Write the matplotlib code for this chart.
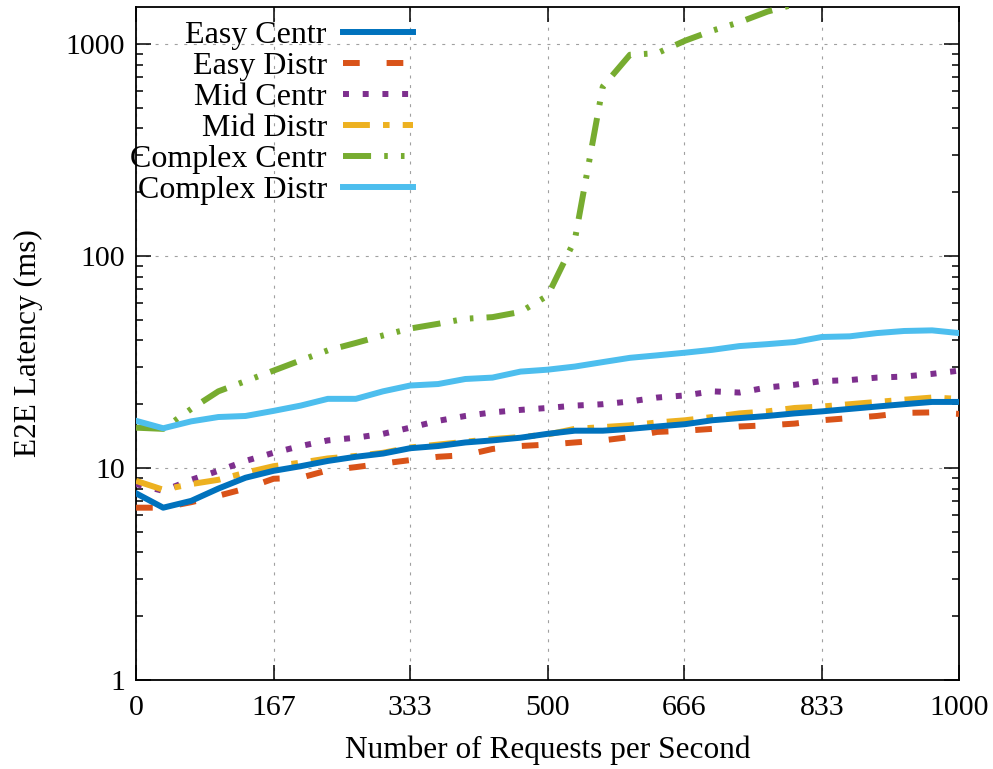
import matplotlib
matplotlib.use("Agg")
import matplotlib.pyplot as plt
from matplotlib.ticker import LogLocator, NullFormatter, FixedLocator

# Requests per second (x) and measured end-to-end latency in ms
requests = [0, 33, 67, 100, 133, 167, 200, 233, 267, 300, 333, 367, 400, 433, 467,
            500, 533, 567, 600, 633, 667, 700, 733, 767, 800, 833, 867, 900, 933, 967, 1000]

easy_centr = [7.6, 6.5, 7.0, 8.0, 9.0, 9.7, 10.2, 10.8, 11.3, 11.7, 12.4, 12.7, 13.2, 13.5, 13.9,
              14.5, 15.0, 15.0, 15.3, 15.7, 16.1, 16.8, 17.2, 17.6, 18.1, 18.5, 19.0, 19.5, 20.0, 20.5, 20.5]
easy_distr = [6.5, 6.5, 6.9, 7.4, 8.0, 8.9, 9.0, 9.75, 10.1, 10.5, 10.9, 11.3, 11.5, 12.3, 12.7,
              12.9, 13.2, 13.5, 14.0, 14.8, 15.0, 15.3, 15.7, 15.9, 16.2, 16.8, 17.2, 17.6, 18.2, 18.3, 18.0]
mid_centr = [8.4, 7.8, 8.8, 9.7, 10.8, 11.8, 12.7, 13.5, 13.9, 14.5, 15.5, 16.7, 17.6, 18.3, 18.8,
             19.2, 19.7, 20.0, 20.6, 21.5, 22.0, 23.0, 22.7, 24.0, 24.7, 25.7, 26.0, 26.7, 27.0, 27.8, 28.8]
mid_distr = [8.7, 7.9, 8.4, 8.8, 9.5, 10.2, 10.6, 11.1, 11.4, 11.8, 12.5, 12.9, 13.3, 13.7, 14.0,
             14.4, 15.3, 15.6, 15.9, 16.4, 16.8, 17.4, 18.1, 18.5, 19.2, 19.5, 20.0, 20.5, 21.0, 21.5, 21.2]
complex_centr = [15.5, 15.3, 19.0, 23.0, 25.7, 28.8, 32.2, 35.9, 38.9, 42.2, 45.5, 47.9, 50.6, 51.5, 54.5,
                 65, 119, 630, 890, 905, 1037, 1156, 1267, 1422, 1540]
complex_distr = [16.7, 15.4, 16.6, 17.4, 17.6, 18.6, 19.7, 21.2, 21.2, 23.0, 24.5, 24.9, 26.3, 26.7, 28.5,
                 29.1, 30.1, 31.6, 33.1, 34.0, 35.0, 36.1, 37.6, 38.4, 39.3, 41.5, 41.8, 43.3, 44.3, 44.6, 43.3]

xticks = [0, 167, 333, 500, 666, 833, 1000]
yticks = [1, 10, 100, 1000]

plt.rcParams['font.family'] = ['Liberation Serif', 'DejaVu Serif']
plt.rcParams['font.size'] = 21.5

fig = plt.figure(figsize=(9.93, 7.69), dpi=100)
ax = fig.add_axes([0.137, 0.1157, 0.829, 0.8756])

lw = 4.3
ax.plot(requests, easy_centr, color='#0072BD', lw=lw, label='Easy Centr', zorder=5)
ax.plot(requests, easy_distr, color='#D95319', lw=lw, label='Easy Distr',
        dashes=(2.8, 4.5), dash_capstyle='butt', zorder=4)
ax.plot(requests, mid_centr, color='#7E2F8E', lw=lw, label='Mid Centr',
        dashes=(1.0, 2.3), dash_capstyle='butt', zorder=4)
ax.plot(requests, mid_distr, color='#EDB120', lw=lw, label='Mid Distr',
        dashes=(4.5, 2.2, 1.1, 2.2), dash_capstyle='butt', zorder=4)
ax.plot(requests[:len(complex_centr)], complex_centr, color='#77AC30', lw=lw, label='Complex Centr',
        dashes=(4.7, 2.2, 0.6, 2.2, 0.6, 2.2), dash_capstyle='butt', zorder=4)
ax.plot(requests, complex_distr, color='#4DBEEE', lw=lw, label='Complex Distr', zorder=4)

ax.set_yscale('log')
ax.set_xlim(0, 1000)
ax.set_ylim(1, 1500)

ax.xaxis.set_major_locator(FixedLocator(xticks))
ax.set_xticklabels([str(t) for t in xticks])
ax.yaxis.set_major_locator(FixedLocator(yticks))
ax.set_yticklabels([str(t) for t in yticks])
ax.yaxis.set_minor_locator(LogLocator(base=10, subs=range(2, 10)))
ax.yaxis.set_minor_formatter(NullFormatter())

ax.tick_params(which='both', direction='in', top=True, right=True, width=1.1, color='black')
ax.tick_params(which='major', length=10.5, pad=8)
ax.tick_params(axis='x', which='major', pad=11)
ax.tick_params(which='minor', length=5)
for s in ax.spines.values():
    s.set_linewidth(1.3)

ax.grid(True, which='major', color='#a0a0a0', lw=0.8, linestyle=(0, (2.7, 5.9)))
ax.set_axisbelow(True)

ax.set_xlabel('Number of Requests per Second', fontsize=22.5, labelpad=10)
ax.set_ylabel('E2E Latency (ms)', fontsize=22.5, labelpad=16)

# gnuplot-like key: labels right-aligned, samples on the right
leg = ax.legend(loc='upper right', bbox_to_anchor=(0.354, 1.0), frameon=False, fontsize=23,
                markerfirst=False, handlelength=2.2, handletextpad=0.5,
                labelspacing=0.05, borderaxespad=0.25, borderpad=0.2)
for col in leg._legend_handle_box.get_children():
    col.align = 'right'

fig.savefig('out.png', dpi=100)
